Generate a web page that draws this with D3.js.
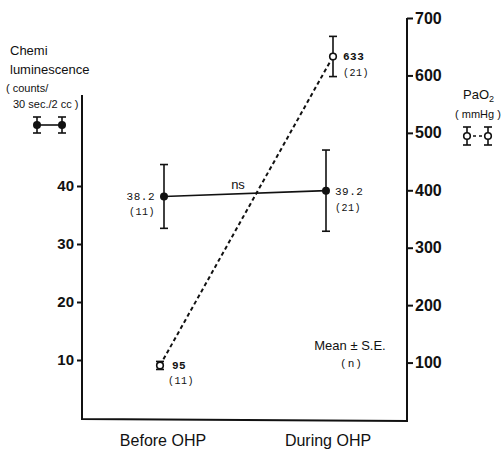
<!DOCTYPE html>
<html>
<head>
<meta charset="utf-8">
<script src="https://cdn.jsdelivr.net/npm/d3@7"></script>
<style>
  body { margin: 0; background: #fff; }
  svg { display: block; }
  .tick text { font-family: "Liberation Sans Narrow", "Liberation Sans", Arial, sans-serif; font-weight: bold; }
  .mono { font-family: "Liberation Mono", "DejaVu Sans Mono", monospace; }
  .sans { font-family: "Liberation Sans", Arial, sans-serif; }
</style>
</head>
<body>
<div id="chart"></div>
<script>
// data
var categories = ["Before OHP", "During OHP"];
var chemiMean = [38.2, 39.2];
var chemiSE = [5.5, 7.0];
var chemiN = [11, 21];
var paoMean = [95, 633];
var paoSE = [7, 35];
var paoN = [11, 21];
var leftTicks = [10, 20, 30, 40];
var rightTicks = [100, 200, 300, 400, 500, 600, 700];

var width = 504, height = 449;
var ink = "#111";

var svg = d3.select("#chart").append("svg")
    .attr("width", width)
    .attr("height", height);

var x = d3.scalePoint().domain(categories).range([163, 328]);
var yL = d3.scaleLinear().domain([0, 70]).range([418, 418 - 70 * 5.8]);
var yR = d3.scaleLinear().domain([0, 700]).range([420, 18]);

var axL = 82, axR = 407;

// frame: left axis, bottom, right axis
svg.append("path")
    .attr("d", "M" + axL + ",95 L" + axL + ",419 L" + axR + ",421 L" + axR + "," + yR(700))
    .attr("fill", "none").attr("stroke", ink).attr("stroke-width", 2);

var gL = svg.append("g").attr("transform", "translate(" + axL + ",0)")
    .call(d3.axisLeft(yL).tickValues(leftTicks).tickSize(5).tickPadding(3).tickFormat(d3.format("d")));
gL.select(".domain").remove();
gL.selectAll(".tick line").attr("stroke", ink).attr("stroke-width", 2);
gL.selectAll(".tick text").attr("font-size", 15).attr("fill", ink);

var gR = svg.append("g").attr("transform", "translate(" + axR + ",0)")
    .call(d3.axisRight(yR).tickValues(rightTicks).tickSize(6).tickPadding(2).tickFormat(d3.format("d")));
gR.select(".domain").remove();
gR.selectAll(".tick line").attr("stroke", ink).attr("stroke-width", 2);
gR.selectAll(".tick text").attr("font-size", 16).attr("fill", ink);

// category labels
svg.selectAll(".cat").data(categories).enter().append("text")
    .attr("class", "sans")
    .attr("x", function(d){ return x(d); })
    .attr("y", 446)
    .attr("text-anchor", "middle")
    .attr("font-size", 16)
    .attr("fill", ink)
    .text(function(d){ return d; });

// PaO2 points sit a little off the category centre
function xp(i){ return x(categories[i]) + (i === 0 ? -3 : 5); }
function xc(i){ return x(categories[i]) + (i === 0 ? 1 : -2); }

// chemiluminescence series
svg.append("path")
    .datum(chemiMean)
    .attr("d", d3.line().x(function(d, i){ return xc(i); }).y(function(d){ return yL(d); }))
    .attr("fill", "none").attr("stroke", ink).attr("stroke-width", 1.6);

// PaO2 series
svg.append("path")
    .datum(paoMean)
    .attr("d", d3.line().x(function(d, i){ return xp(i); }).y(function(d){ return yR(d); }))
    .attr("fill", "none").attr("stroke", ink).attr("stroke-width", 2).attr("stroke-dasharray", "4,3");

function errBar(g, cx, yTop, yBot){
    g.append("line").attr("x1", cx).attr("x2", cx).attr("y1", yTop).attr("y2", yBot)
        .attr("stroke", ink).attr("stroke-width", 1.6);
    [yTop, yBot].forEach(function(yy){
        g.append("line").attr("x1", cx - 4).attr("x2", cx + 4).attr("y1", yy).attr("y2", yy)
            .attr("stroke", ink).attr("stroke-width", 1.6);
    });
}

chemiMean.forEach(function(m, i){
    errBar(svg, xc(i), yL(m + chemiSE[i]), yL(m - chemiSE[i]));
    svg.append("circle").attr("cx", xc(i)).attr("cy", yL(m)).attr("r", 4).attr("fill", ink);
});
paoMean.forEach(function(m, i){
    errBar(svg, xp(i), yR(m + paoSE[i]), yR(m - paoSE[i]));
    svg.append("circle").attr("cx", xp(i)).attr("cy", yR(m)).attr("r", 3.3)
        .attr("fill", "#fff").attr("stroke", ink).attr("stroke-width", 1.6);
});

// value annotations
function note(tx, ty, anchor, txt, size, weight){
    svg.append("text").attr("class", "mono")
        .attr("x", tx).attr("y", ty)
        .attr("text-anchor", anchor)
        .attr("font-size", size || 10)
        .attr("font-weight", weight || "normal")
        .attr("letter-spacing", 0.5)
        .attr("fill", ink)
        .text(txt);
}
note(xc(0) - 9, yL(chemiMean[0]) + 4, "end", chemiMean[0].toFixed(1), 11);
note(xc(0) - 9, yL(chemiMean[0]) + 19, "end", "(" + chemiN[0] + ")", 10);
note(xc(1) + 9, yL(chemiMean[1]) + 4, "start", chemiMean[1].toFixed(1), 11);
note(xc(1) + 9, yL(chemiMean[1]) + 20, "start", "(" + chemiN[1] + ")", 10);
note(xp(1) + 10, yR(paoMean[1]) + 4, "start", paoMean[1], 11, "bold");
note(xp(1) + 10, yR(paoMean[1]) + 20, "start", "(" + paoN[1] + ")", 10);
note(xp(0) + 12, yR(paoMean[0]) + 4, "start", paoMean[0], 11, "bold");
note(xp(0) + 8, yR(paoMean[0]) + 19, "start", "(" + paoN[0] + ")", 10);

svg.append("text").attr("class", "sans").attr("x", 238).attr("y", 189)
    .attr("text-anchor", "middle").attr("font-size", 13).attr("fill", ink).text("ns");

svg.append("text").attr("class", "sans").attr("x", 350).attr("y", 350)
    .attr("text-anchor", "middle").attr("font-size", 13).attr("fill", ink).text("Mean \u00B1 S.E.");
svg.append("text").attr("class", "sans").attr("x", 351).attr("y", 367)
    .attr("text-anchor", "middle").attr("font-size", 11).attr("fill", ink)
    .attr("xml:space", "preserve").text("( n )");

// left axis title + legend key
var titleL = [["Chemi", 10, 55, 13], ["luminescence", 10, 74, 13], ["( counts/", 6, 92, 11], ["30 sec./2 cc )", 13, 108, 11]];
titleL.forEach(function(t){
    svg.append("text").attr("class", "sans").attr("x", t[1]).attr("y", t[2])
        .attr("font-size", t[3]).attr("fill", ink).text(t[0]);
});
var keyY = 125;
svg.append("line").attr("x1", 37).attr("x2", 62).attr("y1", keyY).attr("y2", keyY)
    .attr("stroke", ink).attr("stroke-width", 1.6);
[37, 62].forEach(function(kx){
    errBar(svg, kx, keyY - 8, keyY + 8);
    svg.append("circle").attr("cx", kx).attr("cy", keyY).attr("r", 4).attr("fill", ink);
});

// right axis title + legend key
var pa = svg.append("text").attr("class", "sans").attr("x", 463).attr("y", 99)
    .attr("font-size", 13).attr("fill", ink);
pa.append("tspan").text("PaO");
pa.append("tspan").attr("font-size", 9).attr("dy", 3).text("2");
svg.append("text").attr("class", "sans").attr("x", 478).attr("y", 118)
    .attr("text-anchor", "middle").attr("font-size", 11).attr("fill", ink).text("( mmHg )");
var keyY2 = 136;
svg.append("line").attr("x1", 467).attr("x2", 488).attr("y1", keyY2).attr("y2", keyY2)
    .attr("stroke", ink).attr("stroke-width", 1.6).attr("stroke-dasharray", "3,3");
[467, 488].forEach(function(kx){
    errBar(svg, kx, keyY2 - 9, keyY2 + 9);
    svg.append("circle").attr("cx", kx).attr("cy", keyY2).attr("r", 3.3)
        .attr("fill", "#fff").attr("stroke", ink).attr("stroke-width", 1.6);
});
</script>
</body>
</html>
